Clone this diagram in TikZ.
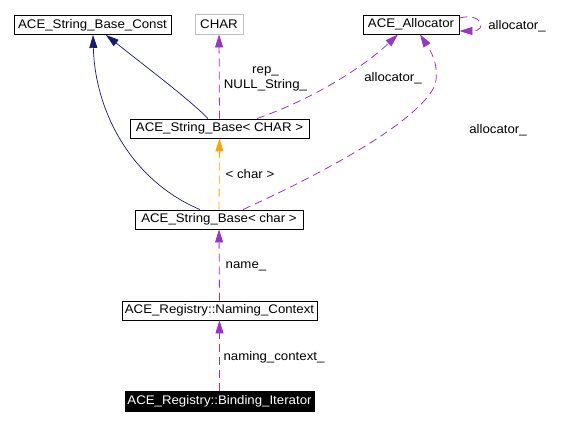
\documentclass[tikz,border=0pt]{standalone}
\usepackage{fontspec}
\setmainfont{Liberation Sans}[FakeStretch=1.06]
\usetikzlibrary{arrows.meta,calc}
\definecolor{edgepurple}{HTML}{9A32CD}
\definecolor{edgenavy}{HTML}{191970}
\definecolor{edgeorange}{HTML}{FFA500}
\definecolor{boxgray}{HTML}{BFBFBF}
\begin{document}
\begin{tikzpicture}[x=1pt,y=-1pt,
  every node/.style={font=\fontsize{12.5}{15}\selectfont},
  cls/.style={draw=black,line width=0.9pt,inner sep=0pt,minimum height=19pt,fill=white},
  lbl/.style={inner sep=0pt,align=center},
  tip/.style={-{Triangle[length=13pt,width=8pt]}},
  inh/.style={tip,draw=edgenavy,line width=0.7pt},
  use/.style={tip,draw=edgepurple,line width=0.8pt,dash pattern=on 8pt off 5pt},
  tmpl/.style={tip,draw=edgeorange,line width=0.8pt,dash pattern=on 8pt off 5pt}]
\useasboundingbox (0,0) rectangle (565,425);
% nodes
\node[cls,minimum width=157pt] (const) at (92.5,25) {ACE\_String\_Base\_Const};
\node[cls,draw=boxgray,minimum width=48pt,minimum height=20pt] (char) at (219,24) {CHAR};
\node[cls,minimum width=96pt] (alloc) at (411,24.5) {ACE\_Allocator};
\node[cls,minimum width=179pt] (sbC) at (219.5,128.5) {ACE\_String\_Base< CHAR >};
\node[cls,minimum width=168pt] (sbc) at (219,219.5) {ACE\_String\_Base< char >};
\node[cls,minimum width=195pt] (nc) at (219.5,310.5) {ACE\_Registry::Naming\_Context};
\node[cls,fill=black,text=white,minimum width=189pt,minimum height=20pt] (bi) at (219.5,401) {ACE\_Registry::Binding\_Iterator};
% inheritance edges
\draw[inh] ([xshift=-11.5pt]sbC.north) .. controls (190,100) and (150,70) .. ([xshift=13.5pt]const.south);
\draw[inh] ([xshift=-19pt]sbc.north) .. controls (130,180) and (95,110) .. ([xshift=0.5pt]const.south);
% usage edges
\draw[use] (sbC.north) -- (char.south);
\draw[use] ([xshift=37.5pt]sbC.north) .. controls (310,100) and (360,70) .. ([xshift=-13pt]alloc.south);
\draw[use] ([xshift=24pt]sbc.north) .. controls (330,170) and (420,120) .. (435,85) .. controls (440,65) and (430,50) .. ([xshift=9pt]alloc.south);
\draw[use] ([yshift=6.5pt]alloc.east) .. controls (482,12) and (488,31) .. ([yshift=-6.5pt]alloc.east);
\draw[tmpl] (sbc.north) -- (sbC.south);
\draw[use] (nc.north) -- (sbc.south);
\draw[use] (bi.north) -- (nc.south);
% labels
\node[lbl] (l1) at (265.5,79) {rep\_\\NULL\_String\_};
\node[lbl] (l2) at (393,78) {allocator\_};
\node[lbl] (l3) at (498,130) {allocator\_};
\node[lbl] (l4) at (517,26) {allocator\_};
\node[lbl] (l5) at (250,174) {< char >};
\node[lbl] (l6) at (246,266) {name\_};
\node[lbl] (l7) at (274,357) {naming\_context\_};
\end{tikzpicture}
\end{document}
